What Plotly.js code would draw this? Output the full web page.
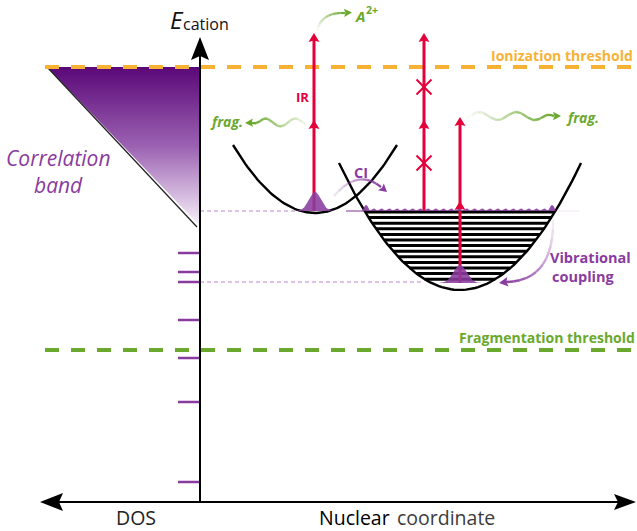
<!DOCTYPE html>
<html><head><meta charset="utf-8">
<script src="https://cdn.plot.ly/plotly-3.0.1.min.js"></script>
<style>html,body{margin:0;padding:0;background:#fff;} #chart{width:637px;height:531px;}</style>
</head><body><div id="chart"></div>
<script>
// ---------------- Schematic data (drawing units; energy axis grows downward) ----------------
const thresholdLabels   = ['Ionization threshold', 'Fragmentation threshold'];
const thresholdEnergies = [67, 350];
const dosLevelEnergies  = [253, 272, 282, 320, 358, 402, 482];
const bandEnergyRange   = [67, 226];      // correlation band: top, bottom
const bandDosRange      = [47, 200];      // correlation band: widest DOS, axis
const wellCentres       = [315, 460];
const wellMinima        = [213, 290];
const wellTopEnergies   = [145, 163];
const wellHalfWidths    = [82, 121];
const vibLevelEnergies  = [212, 217.6, 223.2, 228.8, 234.4, 240, 245.6, 251.2, 256.8, 262.4, 268, 273.6, 279.2];
const irArrowX          = [314, 424, 460];
const irArrowStart      = [211, 211, 283];
const irArrowEnd        = [33, 33, 117];
const irMidHeads        = [[120], [120], [201]];
const irBlocked         = [[], [87, 163], []];
const packetCentres     = [315, 460];
const packetBase        = [211, 283];
const packetHeights     = [19, 18];
const packetWidths      = [6, 6.5];
const topPacketRange    = [366, 552];
const topPacketBumps    = [6, 2.5, 2.5, 2.5, 2.5, 2.5, 2.5, 2.5, 2.5, 2.5, 2.5, 2.5, 2.5, 2.5, 2.5, 2.5, 2.5, 2.5, 2.5, 2.5, 2.5, 2.5, 2.5, 2.5, 6];

// ---------------- Styles ----------------
const PURPLE = '#8a3b9f', RED = '#e4003a', GREEN = '#6aa82e', ORANGE = '#f7b236';
const thresholdColors = [ORANGE, GREEN];
const FONT = 'Open Sans, Noto Sans, sans-serif';
const traces = [];

function hexA(hex, a) {
  const n = parseInt(hex.slice(1), 16);
  return 'rgba(' + ((n >> 16) & 255) + ',' + ((n >> 8) & 255) + ',' + (n & 255) + ',' + a.toFixed(3) + ')';
}
function line(xs, ys, color, width, dash) {
  traces.push({type: 'scatter', mode: 'lines', x: xs, y: ys,
    line: {color: color, width: width, dash: dash || 'solid'}, hoverinfo: 'skip'});
}
function poly(xs, ys, fillcolor, extra) {
  traces.push(Object.assign({type: 'scatter', mode: 'lines', x: xs, y: ys, fill: 'toself',
    fillcolor: fillcolor, line: {width: 0, color: fillcolor}, hoverinfo: 'skip'}, extra || {}));
}
function head(tx, ty, dx, dy, len, hw, color, notch) {
  const n = Math.hypot(dx, dy), ux = dx / n, uy = dy / n, px = -uy, py = ux;
  const bx = tx - ux * len, by = ty - uy * len, nb = notch || 0;
  poly([tx, bx + px * hw, tx - ux * (len - nb), bx - px * hw, tx],
       [ty, by + py * hw, ty - uy * (len - nb), by - py * hw, ty], color);
}
function fadePath(pts, hex, width, a0, a1, nseg) {
  const N = pts.length - 1;
  for (let s = 0; s < nseg; s++) {
    const i0 = Math.floor(s * N / nseg), i1 = Math.floor((s + 1) * N / nseg);
    const a = a0 + (a1 - a0) * (s + 0.5) / nseg;
    const seg = pts.slice(i0, i1 + 1);
    line(seg.map(p => p[0]), seg.map(p => p[1]), hexA(hex, a), width);
  }
}
function quad(p0, p1, p2, n) {
  const out = [];
  for (let i = 0; i <= n; i++) {
    const t = i / n, u = 1 - t;
    out.push([u * u * p0[0] + 2 * u * t * p1[0] + t * t * p2[0], u * u * p0[1] + 2 * u * t * p1[1] + t * t * p2[1]]);
  }
  return out;
}

// ---------------- Correlation band ----------------
poly([bandDosRange[0], bandDosRange[1], bandDosRange[1], bandDosRange[0]],
     [bandEnergyRange[0], bandEnergyRange[0], bandEnergyRange[1], bandEnergyRange[0]], '#9c62b2',
     {fillgradient: {type: 'vertical', start: bandEnergyRange[0], stop: bandEnergyRange[1],
       colorscale: [[0, '#5a0878'], [0.5, '#9c62b2'], [1, '#f8f2fa']]}});
line([bandDosRange[0], bandDosRange[1] - 3], [bandEnergyRange[0], bandEnergyRange[1] + 1], '#222', 1.2);

// ---------------- Dotted guide lines ----------------
line([200, packetCentres[0] - 14], [packetBase[0], packetBase[0]], '#dcc2e6', 2, '4px,3px');
line([200, packetCentres[1] - 37], [packetBase[1] - 1, packetBase[1] - 1], '#dcc2e6', 2, '4px,3px');

// ---------------- Thresholds ----------------
thresholdEnergies.forEach((e, i) => line([45, 637], [e, e], thresholdColors[i], 4, '14px,12px'));

// ---------------- DOS levels ----------------
dosLevelEnergies.forEach(e => line([178, 199], [e, e], PURPLE, 2.5));

// ---------------- Axes ----------------
line([200, 200], [502, 56], '#000', 2);
line([58, 618], [502, 502], '#000', 2);
head(200, 37, 0, -1, 23, 9, '#000', 4);
head(40, 502, -1, 0, 23, 9, '#000', 4);
head(636, 502, 1, 0, 22, 8, '#000', 4);

// ---------------- Potential wells ----------------
function wellY(i, x) {
  const r = (x - wellCentres[i]) / wellHalfWidths[i];
  return wellMinima[i] - (wellMinima[i] - wellTopEnergies[i]) * r * r;
}
fadePath([[346, 211], [366, 211]], PURPLE, 2, 0.0, 0.6, 4);
fadePath([[552, 211], [580, 211]], PURPLE, 2, 0.6, 0.0, 5);
vibLevelEnergies.forEach(e => {
  const hw = wellHalfWidths[1] * Math.sqrt((wellMinima[1] - e) / (wellMinima[1] - wellTopEnergies[1]));
  line([wellCentres[1] - hw, wellCentres[1] + hw], [e, e], '#000', 3);
});
[0, 1].forEach(i => {
  const xs = [], ys = [];
  for (let k = 0; k <= 80; k++) {
    const x = wellCentres[i] - wellHalfWidths[i] + 2 * wellHalfWidths[i] * k / 80;
    xs.push(x); ys.push(wellY(i, x));
  }
  line(xs, ys, '#000', 2.4);
});

// ---------------- IR arrows ----------------
irArrowX.forEach((x, i) => {
  line([x, x], [irArrowStart[i], irArrowEnd[i] + 6], RED, 3);
  head(x, irArrowEnd[i], 0, -1, 9, 5.5, RED, 1.5);
  irMidHeads[i].forEach(y => head(x, y, 0, -1, 9, 5.5, RED, 1.5));
  irBlocked[i].forEach(y => {
    line([x - 7.5, x + 7.5], [y - 7.5, y + 7.5], RED, 2);
    line([x - 7.5, x + 7.5], [y + 7.5, y - 7.5], RED, 2);
  });
});

// ---------------- Wave packets ----------------
[0, 1].forEach(i => {
  const xs = [], ys = [], c = packetCentres[i], s = packetWidths[i];
  for (let k = 0; k <= 60; k++) {
    const x = c - 3.3 * s + 6.6 * s * k / 60;
    xs.push(x); ys.push(packetBase[i] - packetHeights[i] * Math.exp(-((x - c) * (x - c)) / (2 * s * s)));
  }
  xs.push(xs[0]); ys.push(ys[0]);
  poly(xs, ys, hexA(PURPLE, 0.88));
});
(function () {
  const n = topPacketBumps.length, step = (topPacketRange[1] - topPacketRange[0]) / (n - 1);
  const xs = [], ys = [];
  topPacketBumps.forEach((h, j) => {
    const x0 = topPacketRange[0] + j * step - step / 2;
    for (let k = 0; k <= 8; k++) {
      const x = x0 + step * k / 8;
      xs.push(x); ys.push(packetBase[0] - h * Math.sin(Math.PI * k / 8));
    }
  });
  xs.push(xs[0]); ys.push(ys[0]);
  poly(xs, ys, hexA(PURPLE, 0.9));
})();

// ---------------- Green wavy fragmentation arrows ----------------
(function () {
  const pts = [];
  for (let x = 310; x >= 251; x -= 1) {
    const env = Math.min(1, (x - 251) / 12);
    pts.push([x, 122.5 - 4 * env * Math.sin(2 * Math.PI * (x - 258) / 30)]);
  }
  fadePath(pts, GREEN, 2.4, 0.0, 1.0, 14);
  head(245, 123, -1, 0.05, 8, 4.2, GREEN, 1.5);
  const pr = [];
  for (let x = 466; x <= 554; x += 1) {
    const env = Math.min(1, (554 - x) / 12);
    pr.push([x, 116 - 4 * env * Math.sin(2 * Math.PI * (x - 470) / 37)]);
  }
  fadePath(pr, GREEN, 2.4, 0.0, 1.0, 14);
  head(561, 116, 1, 0, 8, 4.2, GREEN, 1.5);
  fadePath(quad([317, 31], [321, 12], [345, 13], 30), GREEN, 2.2, 0.0, 1.0, 10);
  head(352, 12.5, 1, -0.05, 8, 4.2, GREEN, 1.5);
})();

// ---------------- CI and vibrational-coupling arrows ----------------
fadePath(quad([334, 196], [358, 168], [381, 187], 30), PURPLE, 2.2, 0.1, 1.0, 10);
head(387, 192, 1, 0.85, 8, 4.5, PURPLE, 1.5);
fadePath(quad([553, 214], [556, 281], [506, 282], 40), PURPLE, 2.4, 0.0, 1.0, 14);
head(499, 283, -1, 0.15, 9, 4.8, PURPLE, 1.5);

// ---------------- Text ----------------
const A = (x, y, text, size, color, opts) => Object.assign({x: x, y: y, xref: 'x', yref: 'y', text: text,
  showarrow: false, xanchor: 'center', yanchor: 'middle', borderpad: 0,
  font: {family: FONT, size: size, color: color}}, opts || {});
const annotations = [
  A(177, 19, '<i>E</i>', 24, '#111'),
  A(206, 24, 'cation', 16, '#111'),
  A(135.5, 517, 'DOS', 19.5, '#222'),
  A(391, 517, 'Nuclear', 19.5, '#000', {xanchor: 'right'}),
  A(396, 517, 'coordinate', 19.5, '#3c3c3c', {xanchor: 'left'}),
  A(634, 55, '<b>' + thresholdLabels[0] + '</b>', 14, ORANGE, {xanchor: 'right'}),
  A(636, 337, '<b>' + thresholdLabels[1] + '</b>', 14, GREEN, {xanchor: 'right'}),
  A(58.5, 158, '<i>Correlation</i>', 21, PURPLE),
  A(58.5, 185, '<i>band</i>', 21, PURPLE),
  A(302, 97, '<b>IR</b>', 13, RED),
  A(361, 172, '<b>CI</b>', 14.5, PURPLE),
  A(549, 257, '<b>Vibrational</b>', 14.5, PURPLE, {xanchor: 'left'}),
  A(551, 276, '<b>coupling</b>', 14.5, PURPLE, {xanchor: 'left'}),
  A(244, 121, '<b><i>frag.</i></b>', 14, GREEN, {xanchor: 'right'}),
  A(565, 117, '<b><i>frag.</i></b>', 14, GREEN, {xanchor: 'left'}),
  A(354, 16, '<b><i>A</i></b>', 15, GREEN, {xanchor: 'left'}),
  A(365, 10, '<b>2+</b>', 10.5, GREEN, {xanchor: 'left'})
];

const layout = {
  width: 637, height: 531, margin: {l: 0, r: 0, t: 0, b: 0, pad: 0},
  paper_bgcolor: '#fff', plot_bgcolor: '#fff', showlegend: false,
  xaxis: {range: [0, 637], visible: false, fixedrange: true},
  yaxis: {range: [531, 0], visible: false, fixedrange: true},
  annotations: annotations
};
Plotly.newPlot('chart', traces, layout, {staticPlot: true, displayModeBar: false});
</script></body></html>
